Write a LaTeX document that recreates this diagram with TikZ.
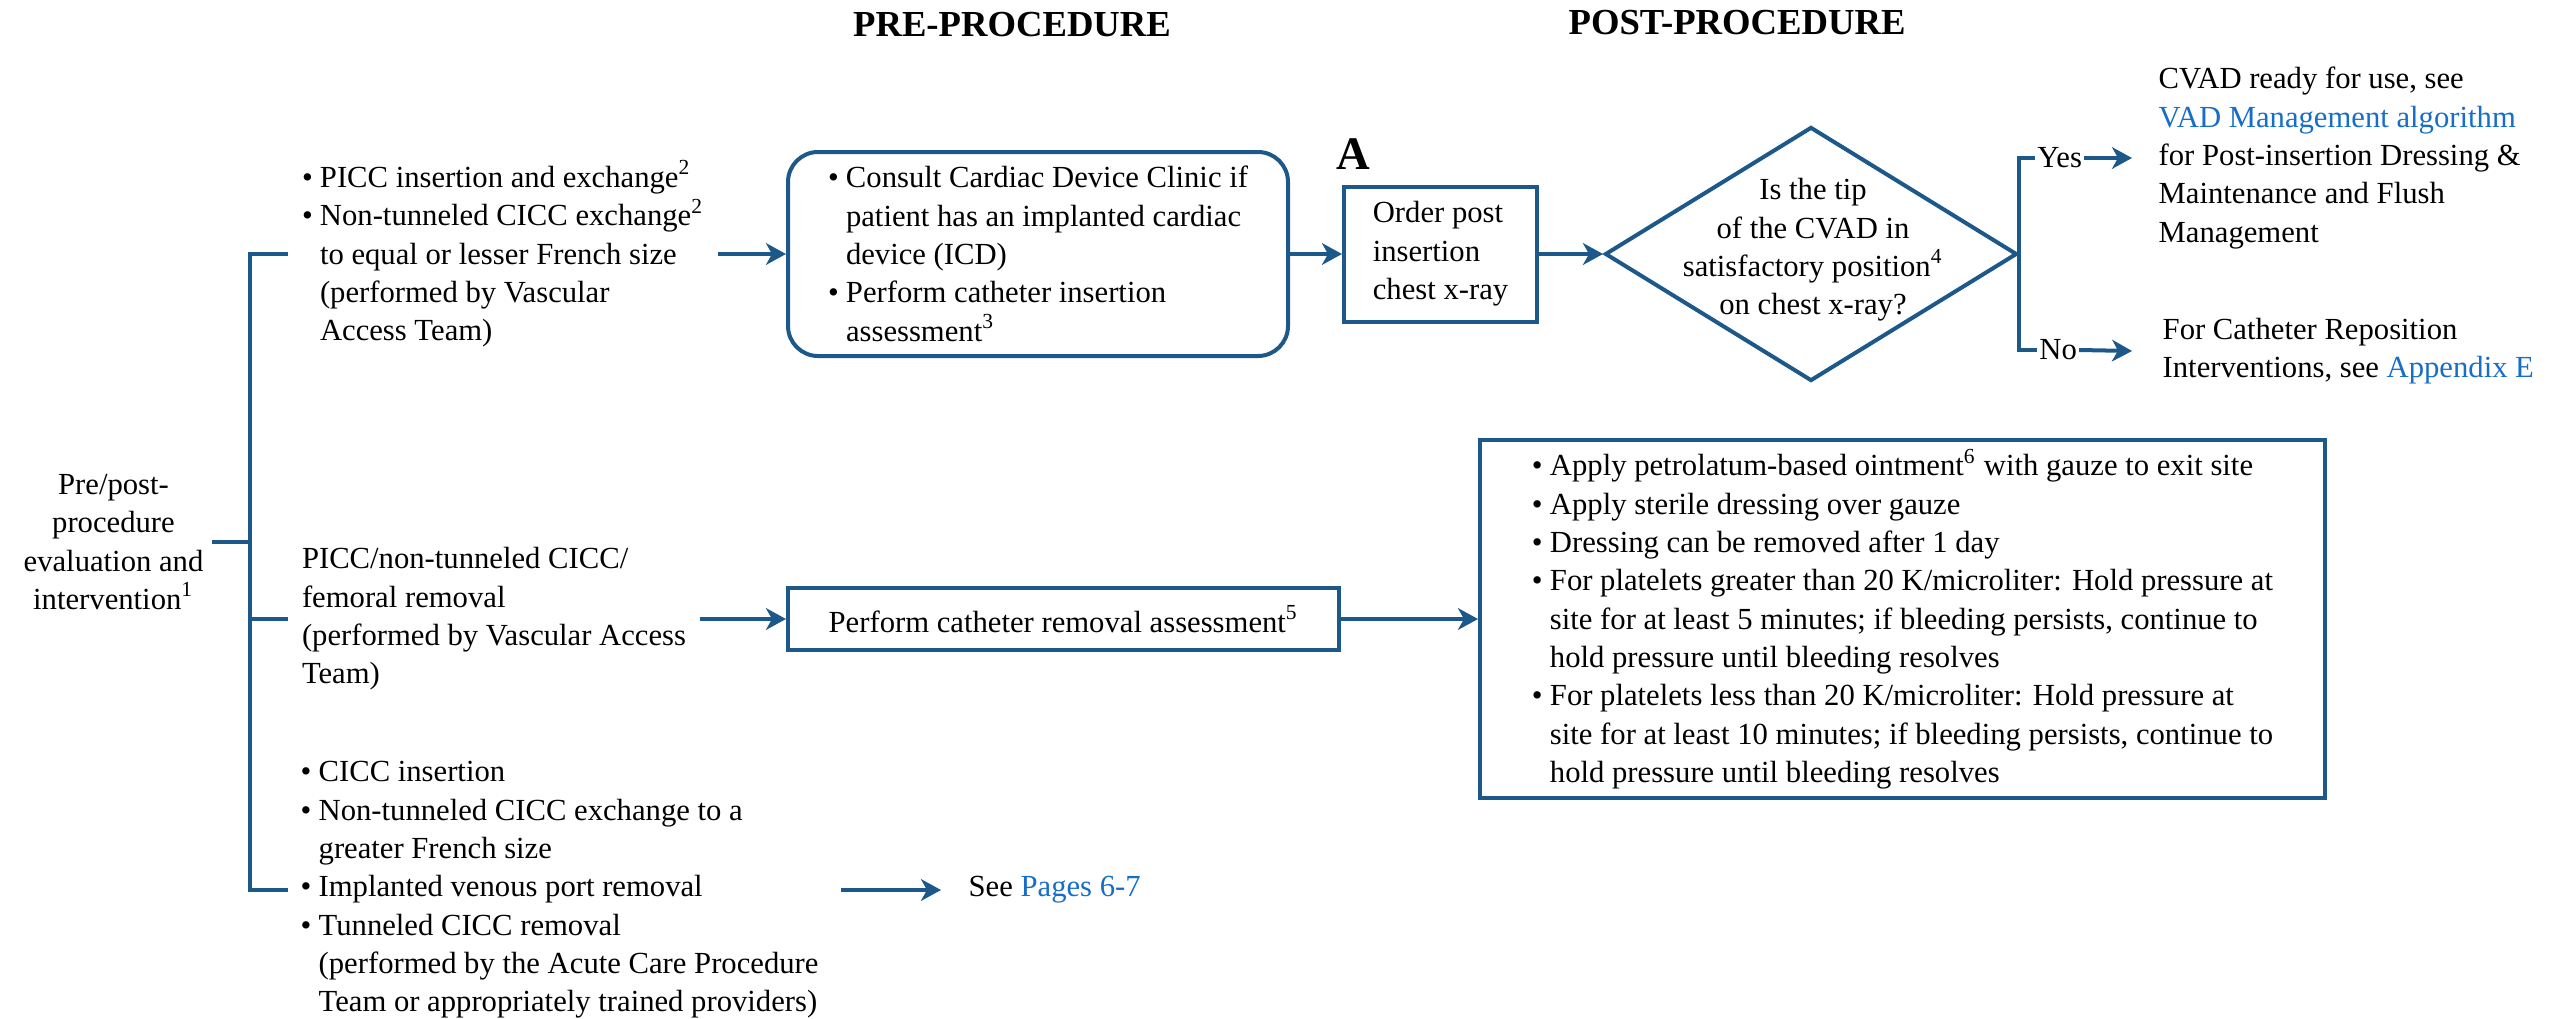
\documentclass[tikz,border=0pt]{standalone}
\usepackage{fontspec}
\setmainfont{Liberation Serif}
\usetikzlibrary{arrows.meta,positioning,shapes.geometric}
\definecolor{darkcerulean}{RGB}{29,88,138}
\definecolor{linkblue}{RGB}{22,110,200}
\newcommand{\bodysize}{\rmfamily\fontsize{9.2}{11.5}\selectfont}
\newcommand{\bul}{\makebox[5.4pt][l]{\textbullet}}
\newcommand{\nobul}{\hspace*{5.4pt}}
\tikzset{
  rectbox/.style={
    draw=darkcerulean,
    line width=1.2pt,
    align=left,
    font=\bodysize,
    inner ysep=0pt
  },
  roundbox/.style={
    rectbox,
    rounded corners=9pt
  },
  decision/.style={
    diamond,
    draw=darkcerulean,
    line width=1.2pt,
    inner sep=0pt,
    minimum width=123.6pt,
    minimum height=76.2pt
  },
  plaintext/.style={
    align=left,
    font=\bodysize,
    inner sep=0pt
  },
  heading/.style={
    font=\rmfamily\fontsize{11}{13}\selectfont\bfseries,
    inner sep=0pt
  },
  arrow/.style={
    -{Stealth[length=6pt,width=6.5pt,inset=1.8pt]},
    line width=1.2pt,
    darkcerulean
  },
  connector/.style={
    line width=1.2pt,
    darkcerulean
  }
}

\begin{document}
\begin{tikzpicture}[x=0.3pt,y=-0.3pt]
\useasboundingbox (0,0) rectangle (2575,1019);
% column titles
\node[heading] (pre) at (1012,25) {PRE-PROCEDURE};
\node[heading] (post) at (1737,23) {POST-PROCEDURE};
% start
\node[plaintext,align=center,anchor=east,inner xsep=2.4pt] (root) at (212,542)
  {Pre/post-\\procedure\\evaluation and\\intervention\textsuperscript{1}};
\coordinate (spine) at (250,542);
% three branches
\node[plaintext,anchor=west,inner xsep=4pt] (b1) at (288,254)
  {\bul PICC insertion and exchange\textsuperscript{2}\\
   \bul Non-tunneled CICC exchange\textsuperscript{2}\\
   \nobul to equal or lesser French size\\
   \nobul (performed by Vascular\\
   \nobul Access Team)};
\node[plaintext,anchor=west,inner xsep=4pt] (b2) at (288,619)
  {PICC/non-tunneled CICC/\\femoral removal\\(performed by Vascular Access\\Team)};
\node[plaintext,anchor=west,inner xsep=3.6pt] (b3) at (288,890)
  {\bul CICC insertion\\
   \bul Non-tunneled CICC exchange to a\\
   \nobul greater French size\\
   \bul Implanted venous port removal\\
   \bul Tunneled CICC removal\\
   \nobul (performed by the Acute Care Procedure\\
   \nobul Team or appropriately trained providers)};
% insertion path
\node[roundbox,minimum width=150pt,minimum height=61.2pt,inner xsep=9pt] (cons) at (1038,254)
  {\bul Consult Cardiac Device Clinic if\\
   \nobul patient has an implanted cardiac\\
   \nobul device (ICD)\\
   \bul Perform catheter insertion\\
   \nobul assessment\textsuperscript{3}};
\node[rectbox,minimum width=57.9pt,minimum height=40.5pt,inner xsep=8.25pt] (xray) at (1440.5,254)
  {Order post\\insertion\\chest x-ray};
\node[font=\rmfamily\fontsize{14}{16}\selectfont\bfseries,inner sep=0pt,anchor=south west,
  above right=4.2pt and -1.8pt of xray.north west] (lbla) {A};
\node[decision] (tip) at (1811,254) {};
\node[plaintext,align=center] (tiptext) at (1813,250)
  {Is the tip\\of the CVAD in\\satisfactory position\textsuperscript{4}\\on chest x-ray?};
\node[plaintext,anchor=west,inner sep=0.5pt] (yes) at (2035,158) {Yes};
\node[plaintext,anchor=west,inner sep=0.5pt] (no) at (2037,350) {No};
\node[plaintext,anchor=west,inner xsep=7.8pt] (ready) at (2132,158)
  {CVAD ready for use, see\\
   {\color{linkblue}VAD Management algorithm}\\
   for Post-insertion Dressing \&\\
   Maintenance and Flush\\
   Management};
\node[plaintext,anchor=west,inner xsep=9pt] (repos) at (2132,351)
  {For Catheter Reposition\\Interventions, see {\color{linkblue}Appendix E}};
% removal path
\node[rectbox,minimum width=165.3pt,minimum height=18.6pt,inner xsep=8pt] (rem) at (1063.5,619)
  {Perform catheter removal assessment\textsuperscript{5}};
\node[rectbox,minimum width=253.5pt,minimum height=107.4pt,inner xsep=9.3pt] (care) at (1902.5,619)
  {\bul Apply petrolatum-based ointment\textsuperscript{6} with gauze to exit site\\
   \bul Apply sterile dressing over gauze\\
   \bul Dressing can be removed after 1 day\\
   \bul For platelets greater than 20 K/microliter: Hold pressure at\\
   \nobul site for at least 5 minutes; if bleeding persists, continue to\\
   \nobul hold pressure until bleeding resolves\\
   \bul For platelets less than 20 K/microliter: Hold pressure at\\
   \nobul site for at least 10 minutes; if bleeding persists, continue to\\
   \nobul hold pressure until bleeding resolves};
\node[plaintext,anchor=west,inner xsep=8.1pt] (see) at (941,890)
  {See {\color{linkblue}Pages 6-7}};
% connectors
\draw[connector] (root.east) -- (spine);
\draw[connector] (b1.west) -| (spine) |- (b3.west);
\draw[connector] (b2.west) -- (b2.west -| spine);
\draw[arrow] (b1.east) -- (cons.west);
\draw[arrow] (cons.east) -- (xray.west);
\draw[arrow] (xray.east) -- (tip.west);
\draw[connector] (tip.east) |- (yes.west);
\draw[connector] (tip.east) |- (no.west);
\draw[arrow] (yes.east) -- (ready.west);
\draw[arrow] (no.east) -- (repos.west);
\draw[arrow] (b2.east) -- (rem.west);
\draw[arrow] (rem.east) -- (care.west);
\draw[arrow,shorten <=3pt] (b3.east) -- (see.west);
\end{tikzpicture}
\end{document}
